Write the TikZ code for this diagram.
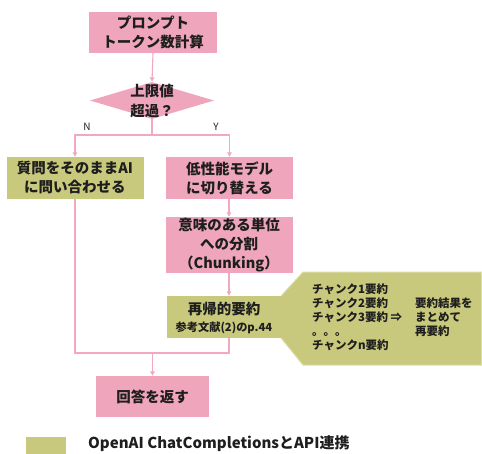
\documentclass[tikz,border=0pt]{standalone}
\usepackage{fontspec}
\setmainfont{Noto Sans CJK JP}
\usetikzlibrary{shapes.geometric,arrows.meta}
\definecolor{pinkbox}{RGB}{239,166,189}
\definecolor{pinkline}{RGB}{241,168,192}
\definecolor{olive}{RGB}{201,201,125}
\definecolor{oliveline}{RGB}{222,222,170}
\definecolor{txt}{RGB}{30,30,30}
\begin{document}
\begin{tikzpicture}[x=1pt,y=-1pt,
  pbox/.style={fill=pinkbox,draw=none,inner sep=0pt,align=center,text=txt,
    font=\bfseries\fontsize{14.5}{19}\selectfont},
  obox/.style={pbox,fill=olive},
  conn/.style={draw=pinkline,line width=1.1pt},
  arr/.style={conn,-{Triangle[length=4.5pt,width=4.5pt]}},
  small/.style={text=txt,inner sep=0pt,align=left,font=\bfseries\fontsize{11.5}{14}\selectfont}
]
\useasboundingbox (0,0) rectangle (482,453);
% nodes
\node[pbox,minimum width=128pt,minimum height=41pt] (b1) at (153,32.5) {プロンプト\\トークン数計算};
\node[diamond,fill=pinkbox,inner sep=0pt,minimum width=124pt,minimum height=37pt,aspect=3.35] (dec) at (152,100.5) {};
\node[text=txt,align=center,inner sep=0pt,font=\bfseries\fontsize{14.5}{20}\selectfont] (dect) at (152,101) {上限値\\超過？};
\node[obox,minimum width=137pt,minimum height=42pt] (q) at (75,178) {質問をそのままAI\\に問い合わせる};
\node[pbox,minimum width=127pt,minimum height=42pt] (low) at (229.5,178) {低性能モデル\\に切り替える};
\node[pbox,minimum width=127pt,minimum height=56pt] (chunk) at (229,245) {意味のある単位\\への分割\\（Chunking）};
\node[obox,minimum width=114pt,minimum height=42pt] (rec) at (224,317) {};
\node[text=txt,inner sep=0pt,font=\bfseries\fontsize{14.5}{18}\selectfont] (rect1) at (224,309) {再帰的要約};
\node[text=txt,inner sep=0pt,font=\bfseries\fontsize{11.2}{13}\selectfont] (rect2) at (224,328) {参考文献(2)のp.44};
\node[pbox,minimum width=113pt,minimum height=41pt] (ans) at (152.5,396.5) {回答を返す};
% callout
\coordinate (c1) at (303,272);
\coordinate (c2) at (481.5,272);
\coordinate (c3) at (481.5,365);
\coordinate (c4) at (303,365);
\fill[olive] (rec.north east) -- (c1) -- (c2) -- (c3) -- (c4) -- (rec.south east) -- cycle;
\draw[oliveline,line width=1pt] (rec.north east) -- (c1) -- (c2) -- (c3) -- (c4) -- (rec.south east);
\node[small,anchor=north west] (list) at (312,283) {チャンク1要約\\チャンク2要約\\チャンク3要約 ⇒\\。。。\\チャンクn要約};
\node[small,anchor=north west] (res) at (415,297.5) {要約結果を\\まとめて\\再要約};
% connectors
\draw[arr] (b1.south) -- (dec.north);
\coordinate (split) at (152,135);
\draw[conn] (dec.south) -- (split);
\draw[arr] (split) -| (q.north);
\draw[arr] (split) -| (low.north);
\node[text=txt,inner sep=0pt,font=\fontsize{10}{12}\selectfont] (nl) at (87,127) {N};
\node[text=txt,inner sep=0pt,font=\fontsize{10}{12}\selectfont] (yl) at (216,127) {Y};
\draw[arr] (low.south) -- (chunk.south |- low.south) -- (chunk.north);
\draw[arr] (chunk.south) -- (chunk.south |- rec.north);
\coordinate (jl) at (75,353);
\coordinate (jr) at (229,353);
\coordinate (jm) at (152.5,353);
\draw[conn] (q.south) -- (jl) -- (jr) -- (jr |- rec.south);
\draw[arr] (jm) -- (ans.north);
% legend
\node[fill=olive,minimum width=40pt,minimum height=17pt,inner sep=0pt] (leg) at (46,445.5) {};
\node[anchor=west,text=txt,inner sep=0pt,font=\bfseries\fontsize{15}{18}\selectfont] (legt) at (88,444) {OpenAI ChatCompletionsとAPI連携};
\end{tikzpicture}
\end{document}
